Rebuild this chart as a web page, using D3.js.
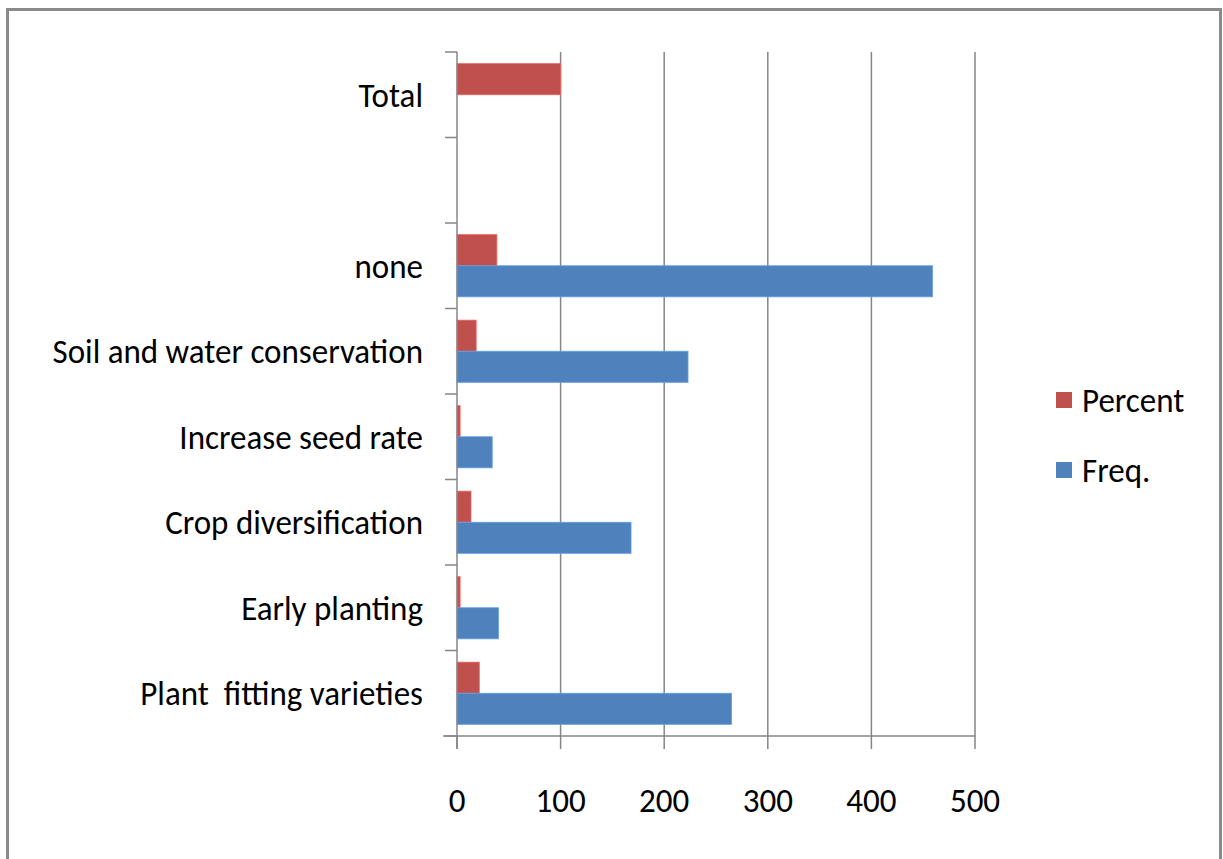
<!DOCTYPE html>
<html>
<head>
<meta charset="utf-8">
<script src="https://cdn.jsdelivr.net/npm/d3@7"></script>
<style>
  html, body { margin: 0; padding: 0; background: #fff; }
  svg text { font-family: Carlito, Calibri, Lato, sans-serif; fill: #000; white-space: pre; }
</style>
</head>
<body>
<svg id="chart"></svg>
<script>
// data, bottom to top as in the picture
const categories = ["Plant  fitting varieties", "Early planting", "Crop diversification",
                    "Increase seed rate", "Soil and water conservation", "none", "", "Total"];
const freq    = [265, 40, 168, 34, 223, 459, null, null];
const percent = [21.5, 3, 13.5, 3, 18.5, 38.5, null, 100];
const seriesNames = ["Percent", "Freq."];
const xTicks = [0, 100, 200, 300, 400, 500];

const width = 1223, height = 859;
const colors = { "Percent": "#C0504D", "Freq.": "#4F81BD" };
const gridColor = "#868686";
const fontSize = 33, stretch = 1.06; // reference text is a little tall

const svg = d3.select("#chart")
  .attr("width", width)
  .attr("height", height);

// outer frame
svg.append("rect")
  .attr("x", 7.5).attr("y", 9.5)
  .attr("width", 1213).attr("height", 870)
  .attr("fill", "#fff")
  .attr("stroke", "#8a8a8a")
  .attr("stroke-width", 3);

const plot = { left: 457, right: 975, top: 52, bottom: 736 };

const x = d3.scaleLinear([0, 500], [plot.left, plot.right]);
// top-most category first in the range
const idx = d3.range(categories.length);
const y = d3.scaleBand(idx.slice().reverse(), [plot.top, plot.bottom]).padding(0);
// inner scale: Percent on top, Freq. below; gap width 75%
const inner = d3.scaleBand(seriesNames, [0, y.bandwidth()]).paddingOuter(0.375).paddingInner(0);

function label(g, px, py) {
  return g.append("text")
    .attr("transform", `translate(${px},${py}) scale(1,${stretch})`)
    .attr("dominant-baseline", "central")
    .attr("font-size", fontSize);
}

// vertical gridlines
svg.append("g")
  .selectAll("line")
  .data(xTicks.slice(1))
  .join("line")
    .attr("x1", d => x(d)).attr("x2", d => x(d))
    .attr("y1", plot.top).attr("y2", plot.bottom)
    .attr("stroke", gridColor)
    .attr("stroke-width", 1.5);

// bars
const rows = idx.map(i => ({ i, "Percent": percent[i], "Freq.": freq[i] }));
const barG = svg.append("g");
rows.forEach(r => {
  seriesNames.forEach(s => {
    if (r[s] == null) return;
    barG.append("rect")
      .attr("x", x(0))
      .attr("y", y(r.i) + inner(s))
      .attr("width", x(r[s]) - x(0))
      .attr("height", inner.bandwidth())
      .attr("fill", colors[s])
      .attr("stroke", d3.color(colors[s]).brighter(0.6))
      .attr("stroke-width", 0.8);
  });
});

// y axis line + ticks at band boundaries
const yAxis = svg.append("g");
yAxis.append("line")
  .attr("x1", plot.left).attr("x2", plot.left)
  .attr("y1", plot.top).attr("y2", plot.bottom + 13)
  .attr("stroke", gridColor).attr("stroke-width", 1.5);
const bounds = idx.map(i => y(i)).concat([plot.bottom]);
yAxis.selectAll("line.tick")
  .data(bounds)
  .join("line")
    .attr("class", "tick")
    .attr("x1", plot.left - 12).attr("x2", plot.left)
    .attr("y1", d => d).attr("y2", d => d)
    .attr("stroke", gridColor).attr("stroke-width", 1.5);

// category labels
idx.forEach(i => {
  label(yAxis, plot.left - 34, y(i) + y.bandwidth() / 2)
    .attr("text-anchor", "end")
    .text(categories[i]);
});

// x axis
const xAxis = svg.append("g");
xAxis.append("line")
  .attr("x1", plot.left - 14).attr("x2", plot.right)
  .attr("y1", plot.bottom).attr("y2", plot.bottom)
  .attr("stroke", gridColor).attr("stroke-width", 1.5);
xAxis.selectAll("line.tick")
  .data(xTicks)
  .join("line")
    .attr("class", "tick")
    .attr("x1", d => x(d)).attr("x2", d => x(d))
    .attr("y1", plot.bottom).attr("y2", plot.bottom + 13)
    .attr("stroke", gridColor).attr("stroke-width", 1.5);
xTicks.forEach(d => {
  label(xAxis, x(d), 800)
    .attr("text-anchor", "middle")
    .text(d);
});

// legend
const legend = svg.append("g").attr("transform", "translate(1056,0)");
const legendY = d3.scalePoint(seriesNames, [400, 470]);
seriesNames.forEach(s => {
  legend.append("rect")
    .attr("x", 0).attr("y", legendY(s) - 8)
    .attr("width", 16).attr("height", 16)
    .attr("fill", colors[s]);
  label(legend, 26, legendY(s)).text(s);
});
</script>
</body>
</html>
